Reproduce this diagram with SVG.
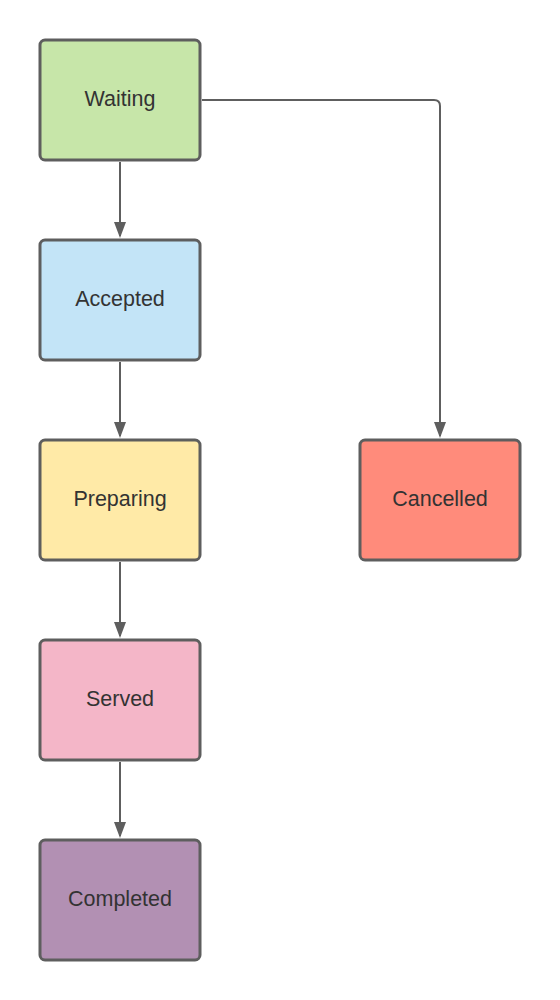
<svg xmlns="http://www.w3.org/2000/svg" width="560" height="1000" viewBox="0 0 560 1000">
<style>
.n{stroke:#5e5e5e;stroke-width:3}
.t{font-family:"Liberation Sans",Arial,sans-serif;font-size:21.5px;fill:#333333;text-anchor:middle;dominant-baseline:central}
.c{fill:none;stroke:#5e5e5e;stroke-width:2}
</style>
<defs>
<marker id="a" markerUnits="userSpaceOnUse" markerWidth="16" markerHeight="12" refX="14" refY="6" orient="auto" viewBox="0 0 16 12">
<path d="M0,0 L16,6 L0,12 Z" fill="#5e5e5e"/>
</marker>
</defs>
<rect width="560" height="1000" fill="#ffffff"/>
<g id="connectors">
<path class="c" d="M120,162 V236" marker-end="url(#a)"/>
<path class="c" d="M120,362 V436" marker-end="url(#a)"/>
<path class="c" d="M120,562 V636" marker-end="url(#a)"/>
<path class="c" d="M120,762 V836" marker-end="url(#a)"/>
<path class="c" d="M202,100 H434 Q440,100 440,106 V436" marker-end="url(#a)"/>
</g>
<g id="waiting"><rect class="n" x="40" y="40" width="160" height="120" rx="5" fill="#c7e6a9"/><text class="t" x="120" y="99">Waiting</text></g>
<g id="accepted"><rect class="n" x="40" y="240" width="160" height="120" rx="5" fill="#c3e4f7"/><text class="t" x="120" y="299">Accepted</text></g>
<g id="preparing"><rect class="n" x="40" y="440" width="160" height="120" rx="5" fill="#ffeaa7"/><text class="t" x="120" y="499">Preparing</text></g>
<g id="served"><rect class="n" x="40" y="640" width="160" height="120" rx="5" fill="#f4b6c8"/><text class="t" x="120" y="699">Served</text></g>
<g id="completed"><rect class="n" x="40" y="840" width="160" height="120" rx="5" fill="#b290b3"/><text class="t" x="120" y="899">Completed</text></g>
<g id="cancelled"><rect class="n" x="360" y="440" width="160" height="120" rx="5" fill="#ff8b7b"/><text class="t" x="440" y="499">Cancelled</text></g>
</svg>
